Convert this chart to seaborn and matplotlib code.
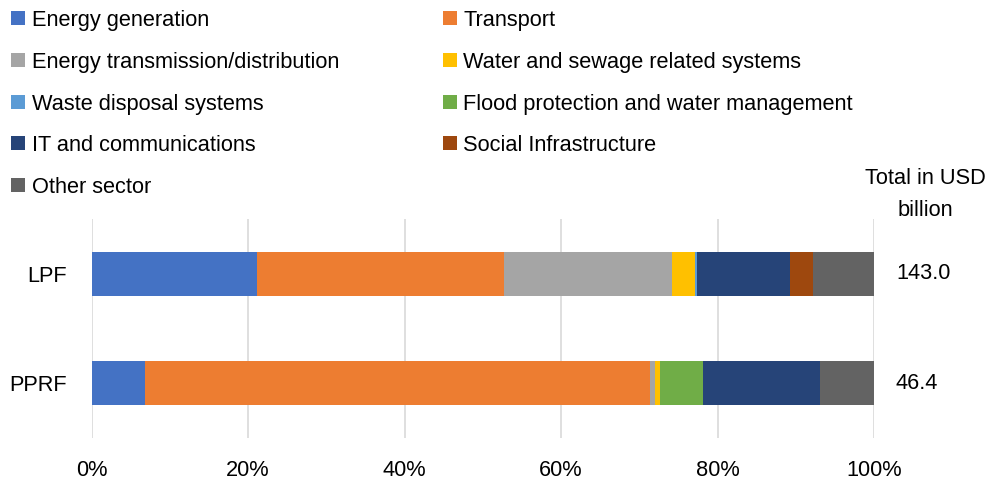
import matplotlib
matplotlib.use("Agg")
import matplotlib.pyplot as plt
import seaborn as sns
import pandas as pd
import numpy as np
from matplotlib.patches import Rectangle
from matplotlib.ticker import PercentFormatter

funds = ["LPF", "PPRF"]
totals = ["143.0", "46.4"]
sectors = ["Energy generation", "Transport", "Energy transmission/distribution",
           "Water and sewage related systems", "Waste disposal systems",
           "Flood protection and water management", "IT and communications",
           "Social Infrastructure", "Other sector"]
lpf_share = [21.2, 31.5, 21.5, 2.9, 0.3, 0.0, 11.9, 2.9, 7.8]
pprf_share = [6.8, 64.6, 0.6, 0.7, 0.0, 5.4, 15.0, 0.0, 6.9]
colors = ["#4472C4", "#ED7D31", "#A5A5A5", "#FFC000", "#5B9BD5",
          "#70AD47", "#264478", "#9E480E", "#636363"]

sns.set_theme(style="white")
plt.rcParams["font.family"] = ["Liberation Sans", "DejaVu Sans"]
plt.rcParams["text.color"] = "black"
FS = 15.7

W, H = 990, 486
fig = plt.figure(figsize=(W / 100, H / 100), dpi=100)
ax = fig.add_axes([91.5 / W, (H - 438) / H, (874 - 91.5) / W, (438 - 219) / H])

df = pd.DataFrame({"fund": np.repeat(funds, len(sectors)),
                   "sector": sectors * len(funds),
                   "share": lpf_share + pprf_share})
df["cum"] = df.groupby("fund")["share"].cumsum()
df["cum"] = df["cum"] / df.groupby("fund")["share"].transform("sum") * 100

for i in range(len(sectors) - 1, -1, -1):
    sub = df[df["sector"] == sectors[i]]
    sns.barplot(data=sub, x="cum", y="fund", order=funds, orient="h",
                color=colors[i], width=0.4, ax=ax, linewidth=0, saturation=1)

ax.set_xlim(0, 100)
ax.set_ylim(1.5, -0.5)
ax.set_xticks(np.arange(0, 101, 20))
ax.xaxis.set_major_formatter(PercentFormatter(decimals=0))
ax.grid(axis="x", color="#D9D9D9", linewidth=1.2)
ax.set_axisbelow(True)
for s in ax.spines.values():
    s.set_visible(False)
ax.set_xlabel("")
ax.set_ylabel("")
ax.tick_params(axis="x", length=0, pad=16, labelsize=FS, labelcolor="black")
ax.tick_params(axis="y", length=0, pad=18, labelsize=FS, labelcolor="black")

def fx(px):
    return px / W

def fy(py):
    return 1 - py / H

fig.text(fx(925), fy(179), "Total in USD", ha="center", va="center", fontsize=FS)
fig.text(fx(925), fy(210), "billion", ha="center", va="center", fontsize=FS)
for i, t in enumerate(totals):
    ax.text(1.028, i, t, transform=ax.get_yaxis_transform(), ha="left",
            va="center", fontsize=FS)

row_y = [18, 60, 102, 143, 185]
col_marker = [11, 443]
col_text = [32, 463]
sq = 14
for k, name in enumerate(sectors):
    r, c = divmod(k, 2)
    yc = row_y[r]
    fig.patches.append(Rectangle((fx(col_marker[c]), fy(yc + sq / 2)), sq / W, sq / H,
                                 transform=fig.transFigure, facecolor=colors[k],
                                 edgecolor="none"))
    fig.text(fx(col_text[c]), fy(yc + 2.5), name, ha="left", va="center", fontsize=FS)

fig.savefig("out.png", dpi=100)
